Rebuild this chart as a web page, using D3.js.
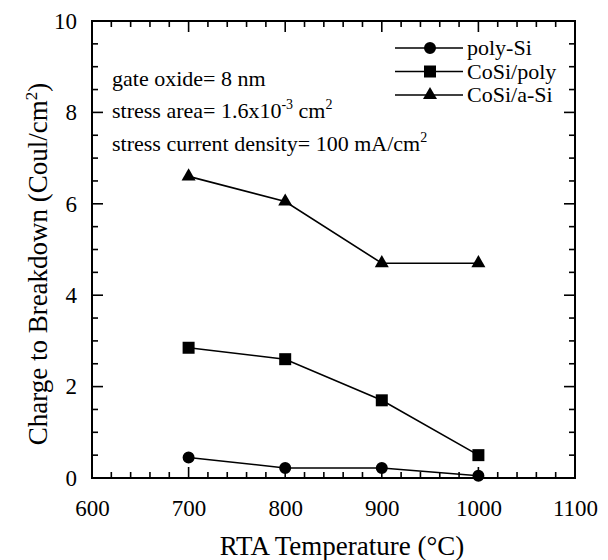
<!DOCTYPE html>
<html><head><meta charset="utf-8">
<script src="https://cdn.jsdelivr.net/npm/d3@7"></script>
<style>body{margin:0;background:#fff}svg{display:block}text{font-family:"Liberation Serif","Times New Roman",serif;fill:#000}</style>
</head><body><svg id="c" width="608" height="560"></svg>
<script>
const temps = [700, 800, 900, 1000];
const polySi = [0.45, 0.22, 0.22, 0.05];
const cosiPoly = [2.85, 2.6, 1.7, 0.5];
const cosiASi = [6.6, 6.05, 4.7, 4.7];
const seriesNames = ["poly-Si", "CoSi/poly", "CoSi/a-Si"];
const xTicks = [600, 700, 800, 900, 1000, 1100];
const yTicks = [0, 2, 4, 6, 8, 10];

const svg = d3.select("#c");
const L = 92, R = 575, T = 21, B = 478;
const x = d3.scaleLinear().domain([600, 1100]).range([L, R]);
const y = d3.scaleLinear().domain([0, 10]).range([B, T]);

const g = svg.append("g");
g.append("rect").attr("x", L).attr("y", T).attr("width", R - L).attr("height", B - T)
  .attr("fill", "none").attr("stroke", "#000").attr("stroke-width", 2);

const minorX = d3.range(600, 1101, 20);
const minorY = d3.range(0, 10.01, 0.5);
function tickLen(major) { return major ? 11 : 6; }
minorX.forEach(v => {
  const major = v % 100 === 0;
  const len = tickLen(major);
  g.append("line").attr("x1", x(v)).attr("x2", x(v)).attr("y1", B).attr("y2", B - len).attr("stroke", "#000").attr("stroke-width", 1.6);
  g.append("line").attr("x1", x(v)).attr("x2", x(v)).attr("y1", T).attr("y2", T + len).attr("stroke", "#000").attr("stroke-width", 1.6);
});
minorY.forEach(v => {
  const major = Math.abs(v / 2 - Math.round(v / 2)) < 1e-6;
  const len = tickLen(major);
  g.append("line").attr("y1", y(v)).attr("y2", y(v)).attr("x1", L).attr("x2", L + len).attr("stroke", "#000").attr("stroke-width", 1.6);
  g.append("line").attr("y1", y(v)).attr("y2", y(v)).attr("x1", R).attr("x2", R - len).attr("stroke", "#000").attr("stroke-width", 1.6);
});
const xAxis = d3.axisBottom(x).tickValues(xTicks).tickFormat(d3.format("d")).tickSize(0).tickPadding(22);
const xa = svg.append("g").attr("transform", `translate(0,${B})`).call(xAxis);
xa.select(".domain").remove();
xa.selectAll("text").style("font-size", "23px").style("font-family", '"Liberation Serif",serif');
const yAxis = d3.axisLeft(y).tickValues(yTicks).tickFormat(d3.format("d")).tickSize(0).tickPadding(15);
const ya = svg.append("g").attr("transform", `translate(${L},0)`).call(yAxis);
ya.select(".domain").remove();
ya.selectAll("text").style("font-size", "23px").style("font-family", '"Liberation Serif",serif');

svg.append("text").attr("x", 342).attr("y", 555).attr("text-anchor", "middle")
  .style("font-size", "27px").text("RTA Temperature (°C)");
const yt = svg.append("text").attr("transform", `translate(47,264) rotate(-90)`).attr("text-anchor", "middle").style("font-size", "27px");
yt.append("tspan").text("Charge to Breakdown (Coul/cm");
yt.append("tspan").attr("dy", -10).style("font-size", "17px").text("2");
yt.append("tspan").attr("dy", 10).text(")");

const ann = svg.append("g").style("font-size", "22px");
ann.append("text").attr("x", 112).attr("y", 86).text("gate oxide= 8 nm");
const a2 = ann.append("text").attr("x", 112).attr("y", 118);
a2.append("tspan").text("stress area= 1.6x10");
a2.append("tspan").attr("dy", -9).style("font-size", "14px").text("-3");
a2.append("tspan").attr("dy", 9).text(" cm");
a2.append("tspan").attr("dy", -9).style("font-size", "14px").text("2");
const a3 = ann.append("text").attr("x", 112).attr("y", 151);
a3.append("tspan").text("stress current density= 100 mA/cm");
a3.append("tspan").attr("dy", -9).style("font-size", "14px").text("2");

const data = [polySi, cosiPoly, cosiASi];
const symbols = [d3.symbolCircle, d3.symbolSquare, d3.symbolTriangle];
const sizes = [113, 144, 85];
const line = d3.line().x((d, i) => x(temps[i])).y(d => y(d));
data.forEach((vals, k) => {
  svg.append("path").attr("d", line(vals)).attr("fill", "none").attr("stroke", "#000").attr("stroke-width", 1.6);
  vals.forEach((v, i) => {
    svg.append("path").attr("d", d3.symbol().type(symbols[k]).size(sizes[k])())
      .attr("transform", `translate(${x(temps[i])},${y(v)})`).attr("fill", "#000");
  });
});

const leg = svg.append("g");
seriesNames.forEach((name, k) => {
  const ly = 48 + k * 23.5;
  leg.append("line").attr("x1", 395).attr("x2", 463).attr("y1", ly).attr("y2", ly).attr("stroke", "#000").attr("stroke-width", 1.6);
  leg.append("path").attr("d", d3.symbol().type(symbols[k]).size(sizes[k])()).attr("transform", `translate(430,${ly})`).attr("fill", "#000");
  leg.append("text").attr("x", 467).attr("y", ly + 7).style("font-size", "22px").text(name);
});
</script></body></html>
